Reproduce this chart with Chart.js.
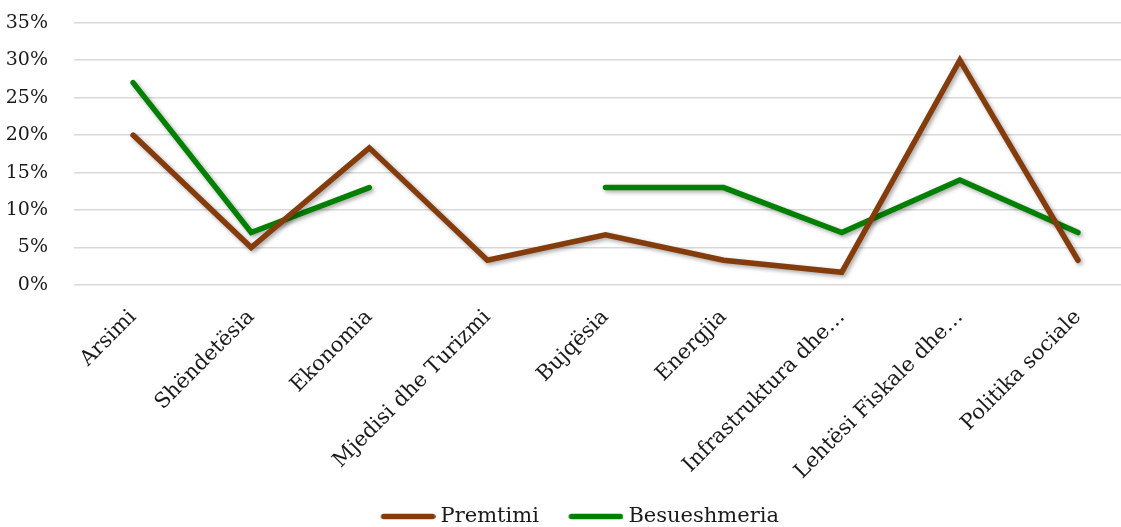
<!DOCTYPE html>
<html>
<head>
<meta charset="utf-8">
<script src="https://cdn.jsdelivr.net/npm/chart.js@4.4.1/dist/chart.umd.min.js"></script>
<style>
html,body{margin:0;padding:0;background:#fff;overflow:hidden;}
#wrap{width:1121px;height:527px;position:relative;overflow:hidden;}
</style>
</head>
<body>
<div id="wrap"><canvas id="c" width="1137" height="527"></canvas></div>
<script>
const categories = ["Arsimi","Shëndetësia","Ekonomia","Mjedisi dhe Turizmi","Bujqësia","Energjia","Infrastruktura dhe…","Lehtësi Fiskale dhe…","Politika sociale"];
const premtimi = [20, 5, 18.3, 3.3, 6.7, 3.3, 1.7, 30, 3.3];
const besueshmeria = [27, 7, 13, null, 13, 13, 7, 14, 7];
const yTicks = [0, 5, 10, 15, 20, 25, 30, 35];

function legendLine(color) {
  const cv = document.createElement('canvas');
  cv.width = 66; cv.height = 7;
  const g = cv.getContext('2d');
  g.strokeStyle = color; g.lineWidth = 5.5; g.lineCap = 'round';
  g.beginPath(); g.moveTo(14, 3.5); g.lineTo(63, 3.5); g.stroke();
  return cv;
}

const shadowPlugin = {
  id: 'shadow',
  beforeDatasetsDraw(chart) {
    const ctx = chart.ctx;
    ctx.save();
    ctx.shadowColor = 'rgba(0,0,0,0.35)';
    ctx.shadowBlur = 4;
    ctx.shadowOffsetX = 2;
    ctx.shadowOffsetY = 2;
  },
  afterDatasetsDraw(chart) {
    chart.ctx.restore();
  }
};

const legendShift = {
  id: 'legendShift',
  afterLayout(chart) {
    if (chart.legend) { chart.legend.left += 8.5; chart.legend.right += 8.5; }
  }
};

new Chart(document.getElementById('c'), {
  type: 'line',
  data: {
    labels: categories,
    datasets: [
      {label: 'Premtimi', data: premtimi, borderColor: '#843C0C', backgroundColor: '#843C0C',
       pointStyle: legendLine('#843C0C'),
       borderWidth: 5.5, pointRadius: 0, tension: 0, borderCapStyle: 'round', borderJoinStyle: 'miter', spanGaps: false},
      {label: 'Besueshmeria', data: besueshmeria, borderColor: '#008000', backgroundColor: '#008000',
       pointStyle: legendLine('#008000'),
       borderWidth: 5.5, pointRadius: 0, tension: 0, borderCapStyle: 'round', borderJoinStyle: 'miter', spanGaps: false}
    ]
  },
  options: {
    responsive: false,
    animation: false,
    layout: {padding: {top: 22.7, left: 0, right: 0, bottom: -10}},
    plugins: {
      tooltip: {enabled: false},
      legend: {
        position: 'bottom',
        labels: {
          usePointStyle: true,
          pointStyleWidth: 55,
          padding: 24,
          color: '#1a1a1a',
          font: {family: 'DejaVu Serif', size: 21}
        }
      }
    },
    scales: {
      x: {
        offset: true,
        grid: {display: false, drawTicks: false},
        border: {display: false},
        afterFit(scale) { scale.height = 197; },
        ticks: {
          minRotation: 45, maxRotation: 45, autoSkip: false, padding: 20,
          color: '#1a1a1a', font: {family: 'DejaVu Serif', size: 21}
        }
      },
      y: {
        min: 0, max: 35,
        afterFit(scale) { scale.width = 74; scale.paddingTop = 0; scale.paddingBottom = 0; },
        afterBuildTicks(scale) { scale.ticks = yTicks.map(v => ({value: v})); },
        grid: {color: '#d9d9d9', lineWidth: 1.5, drawTicks: false},
        border: {display: false},
        ticks: {
          padding: 26,
          color: '#1a1a1a', font: {family: 'DejaVu Serif', size: 19},
          callback: v => v + '%'
        }
      }
    }
  },
  plugins: [shadowPlugin, legendShift]
});
</script>
</body>
</html>
